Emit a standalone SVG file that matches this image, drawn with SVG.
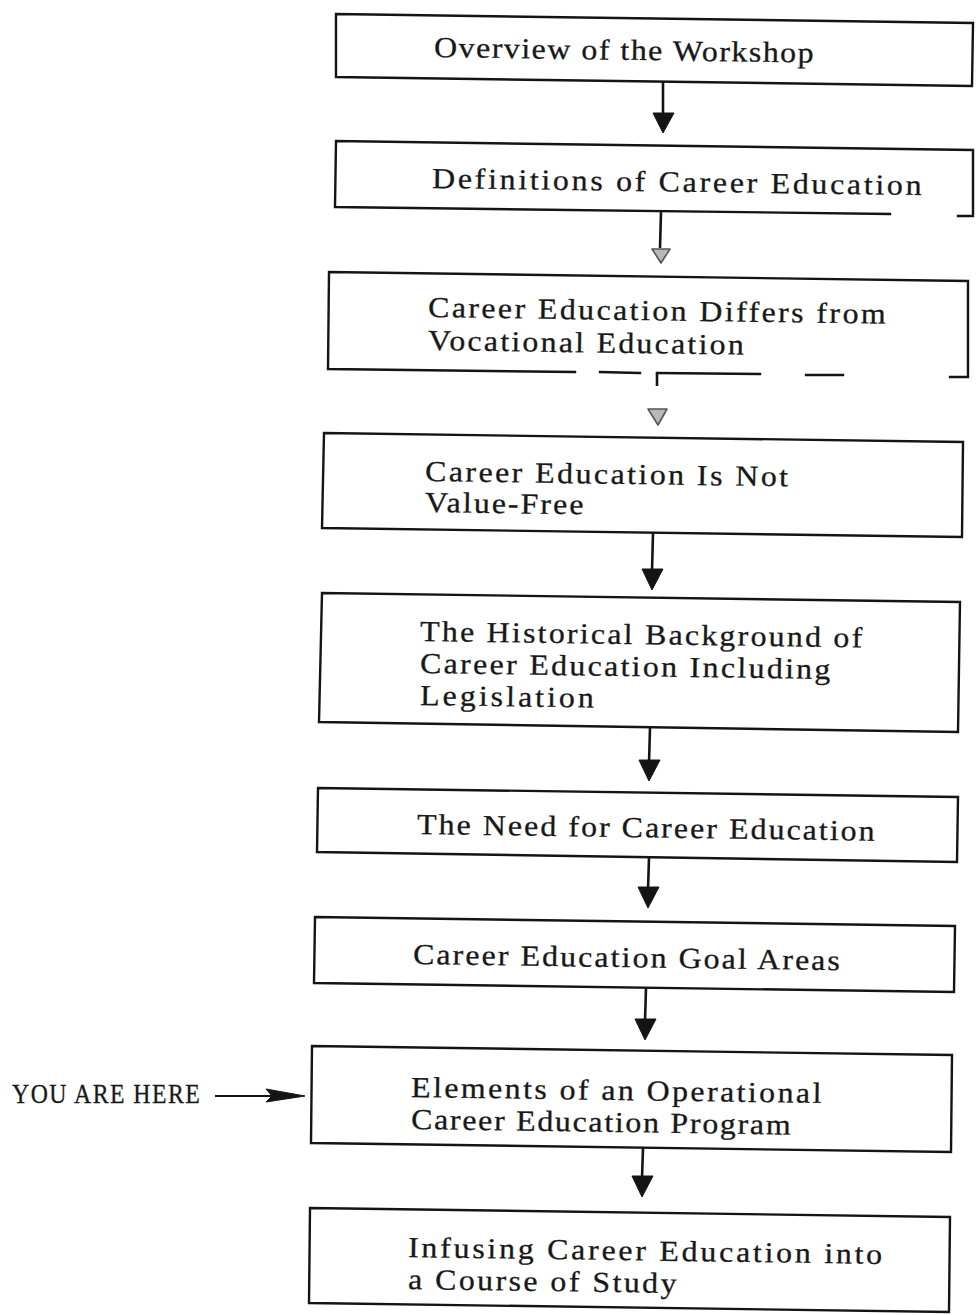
<svg xmlns="http://www.w3.org/2000/svg" width="976" height="1315" viewBox="0 0 976 1315">
  <style>
    .bg { fill: #ffffff; }
    .box { fill: none; stroke: #141414; stroke-width: 2.4; stroke-linecap: square; }
    .lbl { font-family: "Liberation Serif", "Times New Roman", serif; font-size: 29px; fill: #181818; stroke: #181818; stroke-width: 0.3; }
    .wire { fill: none; stroke: #141414; stroke-width: 2.6; }
    .head { fill: #141414; stroke: #141414; stroke-width: 1; stroke-linejoin: round; }
    .faint { fill: #b8b8b8; stroke: #555555; stroke-width: 1.6; stroke-linejoin: round; }
  </style>
  <rect class="bg" x="0" y="0" width="976" height="1315"/>

  <!-- connectors between the steps -->
  <g id="connectors">
    <line class="wire" x1="663" y1="81" x2="663" y2="116"/>
    <polygon class="head" points="653,113 674,113 663,133"/>

    <line class="wire" x1="661" y1="212" x2="660" y2="248"/>
    <polygon class="faint" points="652,249 670,249 661,263"/>

    <line class="wire" x1="657" y1="373" x2="657" y2="386"/>
    <polygon class="faint" points="648,409 667,409 658,425"/>

    <line class="wire" x1="653" y1="533" x2="652" y2="572"/>
    <polygon class="head" points="642,569 663,569 652,590"/>

    <line class="wire" x1="650" y1="728" x2="649" y2="763"/>
    <polygon class="head" points="639,760 660,760 649,781"/>

    <line class="wire" x1="649" y1="858" x2="648" y2="890"/>
    <polygon class="head" points="638,887 659,887 648,908"/>

    <line class="wire" x1="646" y1="988" x2="645" y2="1022"/>
    <polygon class="head" points="635,1019 656,1019 645,1040"/>

    <line class="wire" x1="643" y1="1148" x2="642" y2="1179"/>
    <polygon class="head" points="632,1176 653,1176 642,1197"/>

    <!-- pointer into the current step -->
    <line class="wire" x1="215" y1="1096" x2="285" y2="1096" style="stroke-width:2.2"/>
    <polygon class="head" points="266,1089 305,1096 266,1102 272,1096"/>
  </g>

  <!-- labels: widened 10% and spread to the typewriter pitch (about 15.8px per character) -->
  <g id="step-overview">
    <path class="box" d="M336,14 L973,23 L972,86 L336,77 Z"/>
    <text class="lbl" transform="translate(434 57) rotate(0.83) scale(1.1 1)" textLength="345" lengthAdjust="spacing">Overview of the Workshop</text>
  </g>

  <g id="step-definitions">
    <path class="box" d="M890,214 L335,207 L336,141 L973,150 L973,216 L958,216"/>
    <text class="lbl" transform="translate(432 188) rotate(0.83) scale(1.1 1)" textLength="445" lengthAdjust="spacing">Definitions of Career Education</text>
  </g>

  <g id="step-differs">
    <path class="box" d="M575,372 L328,369 L329,272 L968,281 L968,377 L950,377 M600,372 L640,373 M657,373 L760,374 M806,375 L843,375"/>
    <text class="lbl" transform="translate(428 317) rotate(0.83) scale(1.1 1)" textLength="416" lengthAdjust="spacing">Career Education Differs from</text>
    <text class="lbl" transform="translate(428 350) rotate(0.83) scale(1.1 1)" textLength="287" lengthAdjust="spacing">Vocational Education</text>
  </g>

  <g id="step-values">
    <path class="box" d="M324,433 L963,442 L962,537 L322,528 Z"/>
    <text class="lbl" transform="translate(425 481) rotate(0.83) scale(1.1 1)" textLength="330" lengthAdjust="spacing">Career Education Is Not</text>
    <text class="lbl" transform="translate(425 512) rotate(0.83) scale(1.1 1)" textLength="144" lengthAdjust="spacing">Value-Free</text>
  </g>

  <g id="step-history">
    <path class="box" d="M322,593 L960,602 L958,732 L319,722 Z"/>
    <text class="lbl" transform="translate(420 641) rotate(0.83) scale(1.1 1)" textLength="402" lengthAdjust="spacing">The Historical Background of</text>
    <text class="lbl" transform="translate(420 673) rotate(0.83) scale(1.1 1)" textLength="373" lengthAdjust="spacing">Career Education Including</text>
    <text class="lbl" transform="translate(420 705) rotate(0.83) scale(1.1 1)" textLength="158" lengthAdjust="spacing">Legislation</text>
  </g>

  <g id="step-need">
    <path class="box" d="M318,788 L958,797 L957,862 L317,852 Z"/>
    <text class="lbl" transform="translate(417 834) rotate(0.83) scale(1.1 1)" textLength="416" lengthAdjust="spacing">The Need for Career Education</text>
  </g>

  <g id="step-goals">
    <path class="box" d="M315,917 L955,926 L954,992 L314,983 Z"/>
    <text class="lbl" transform="translate(413 964) rotate(0.83) scale(1.1 1)" textLength="388" lengthAdjust="spacing">Career Education Goal Areas</text>
  </g>

  <g id="step-elements">
    <path class="box" d="M312,1046 L952,1055 L951,1152 L311,1143 Z"/>
    <text class="lbl" transform="translate(411 1097) rotate(0.83) scale(1.1 1)" textLength="373" lengthAdjust="spacing">Elements of an Operational</text>
    <text class="lbl" transform="translate(411 1129) rotate(0.83) scale(1.1 1)" textLength="345" lengthAdjust="spacing">Career Education Program</text>
  </g>

  <g id="step-infusing">
    <path class="box" d="M310,1208 L950,1217 L949,1312 L309,1303 Z"/>
    <text class="lbl" transform="translate(408 1257) rotate(0.83) scale(1.1 1)" textLength="431" lengthAdjust="spacing">Infusing Career Education into</text>
    <text class="lbl" transform="translate(408 1289) rotate(0.83) scale(1.1 1)" textLength="244" lengthAdjust="spacing">a Course of Study</text>
  </g>

  <!-- capitals narrowed to the same pitch -->
  <g id="you-are-here">
    <text class="lbl" transform="translate(12 1103) scale(0.85 1)" style="font-size:28px" textLength="221" lengthAdjust="spacing">YOU ARE HERE</text>
  </g>
</svg>
